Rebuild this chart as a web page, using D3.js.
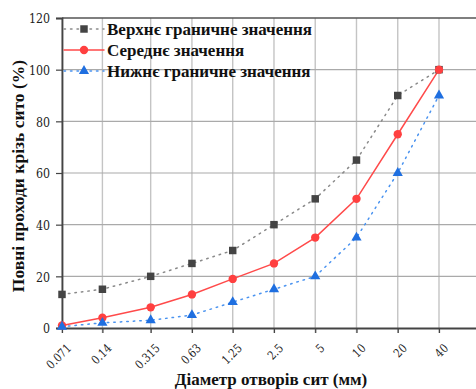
<!DOCTYPE html>
<html><head><meta charset="utf-8">
<script src="https://cdn.jsdelivr.net/npm/d3@7"></script>
<style>body{margin:0;background:#fff}</style>
</head><body>
<script>
const sieves = [0.071, 0.14, 0.315, 0.63, 1.25, 2.5, 5, 10, 20, 40];
const sieveLabels = ["0.071","0.14","0.315","0.63","1.25","2.5","5","10","20","40"];
const upper = [13, 15, 20, 25, 30, 40, 50, 65, 90, 100];
const middle = [1, 4, 8, 13, 19, 25, 35, 50, 75, 100];
const lower = [0.5, 2, 3, 5, 10, 15, 20, 35, 60, 90];
const yTicks = [0, 20, 40, 60, 80, 100, 120];
const seriesNames = ["Верхнє граничне значення", "Середнє значення", "Нижнє граничне значення"];

const W = 476, H = 389;
const L = 62, T = 18, B = 328, R = 482;
const FONT = "'Liberation Serif', 'Times New Roman', serif";
const NUMFONT = "DejaVu Serif";
const svg = d3.select("body").append("svg").attr("width", W).attr("height", H);

const pxPerOct = (439 - 62) / Math.log2(40 / 0.071);
const xMax = 40 * Math.pow(2, (R - 439) / pxPerOct);
const x = d3.scaleLog().domain([0.071, xMax]).range([L, R]);
const y = d3.scaleLinear().domain([0, 120]).range([B, T]);

// grid
const g = svg.append("g");
g.selectAll(".vg").data(sieves).join("line")
  .attr("x1", d => x(d)).attr("x2", d => x(d)).attr("y1", T).attr("y2", B + 5)
  .attr("stroke", "#c4c4c4").attr("stroke-width", 1.4);
g.selectAll(".hg").data(yTicks.slice(1, -1)).join("line")
  .attr("x1", L).attr("x2", W).attr("y1", d => y(d)).attr("y2", d => y(d))
  .attr("stroke", "#aaa").attr("stroke-width", 1.2);

// top frame
svg.append("line").attr("x1", L).attr("x2", W).attr("y1", T).attr("y2", T)
  .attr("stroke", "#555").attr("stroke-width", 1.5);

// axes
const yAxis = svg.append("g").attr("transform", `translate(${L},0)`)
  .call(d3.axisLeft(y).tickValues(yTicks).tickSize(6).tickPadding(3));
yAxis.attr("font-family", null).attr("font-size", null);
yAxis.select(".domain").attr("stroke", "#444").attr("stroke-width", 1.8);
yAxis.selectAll(".tick line").attr("stroke", "#444").attr("stroke-width", 1.2);
yAxis.selectAll("text").style("font-family", NUMFONT).style("font-size", "13px").attr("fill", "#222")
  .attr("x", 0).attr("dy", "0.36em").attr("transform", "translate(-12,0) scale(0.85,1)");

const xAxis = svg.append("g").attr("transform", `translate(0,${B})`)
  .call(d3.axisBottom(x).tickValues(sieves).tickFormat((d, i) => sieveLabels[i]).tickSize(5).tickPadding(4).tickSizeOuter(0));
xAxis.attr("font-family", null).attr("font-size", null);
xAxis.select(".domain").attr("stroke", "#444").attr("stroke-width", 1.8);
xAxis.selectAll(".tick line").attr("stroke", "#444").attr("stroke-width", 1.2);
xAxis.selectAll("text").style("font-family", NUMFONT).style("font-size", "12px").attr("fill", "#222")
  .attr("text-anchor", "end").attr("dy", 0).attr("dx", 0).attr("y", 0).attr("x", 0)
  .attr("transform", "translate(9.5,21) rotate(-45) scale(0.85,1)");

// series
const series = [
  {vals: upper, color: "#8a8a8a", mcolor: "#444", dash: "1.5,5", shape: d3.symbolSquare, size: 56},
  {vals: middle, color: "#ff4a4a", mcolor: "#ff4040", dash: null, shape: d3.symbolCircle, size: 55},
  {vals: lower, color: "#4a93f0", mcolor: "#1f6fe0", dash: "1.5,5", shape: d3.symbolTriangle, size: 45}
];
const line = d3.line().x(d => x(d[0])).y(d => y(d[1]));
series.forEach(s => {
  const pts = sieves.map((v, i) => [v, s.vals[i]]);
  svg.append("path").datum(pts).attr("d", line).attr("fill", "none")
    .attr("stroke", s.color).attr("stroke-width", 1.5).attr("stroke-linecap", "round")
    .attr("stroke-dasharray", s.dash);
});
series.forEach(s => {
  const pts = sieves.map((v, i) => [v, s.vals[i]]);
  svg.selectAll(null).data(pts).join("path")
    .attr("transform", d => `translate(${x(d[0])},${y(d[1])})`)
    .attr("d", d3.symbol().type(s.shape).size(s.size)).attr("fill", s.mcolor);
});

// legend
const lg = svg.append("g");
seriesNames.forEach((name, i) => {
  const s = series[i];
  const yy = 29 + i * 21;
  lg.append("line").attr("x1", 64).attr("x2", 104).attr("y1", yy).attr("y2", yy)
    .attr("stroke", s.color).attr("stroke-width", 1.5).attr("stroke-linecap", "round")
    .attr("stroke-dasharray", s.dash);
  lg.append("path").attr("transform", `translate(84,${yy})`)
    .attr("d", d3.symbol().type(s.shape).size(s.size)).attr("fill", s.mcolor);
  lg.append("text").attr("x", 107).attr("y", yy).attr("dy", "0.35em")
    .style("font-family", FONT).attr("font-weight", "bold").style("font-size", "17px")
    .attr("fill", "#111").text(name);
});

// axis titles
svg.append("text").attr("transform", `translate(24,176) rotate(-90)`)
  .attr("text-anchor", "middle").style("font-family", FONT).attr("font-weight", "bold")
  .style("font-size", "17.5px").attr("fill", "#111").text("Повні проходи крізь сито (%)");
svg.append("text").attr("x", 271).attr("y", 385)
  .attr("text-anchor", "middle").style("font-family", FONT).attr("font-weight", "bold")
  .style("font-size", "17px").attr("fill", "#111").text("Діаметр отворів сит (мм)");
</script>
</body></html>
